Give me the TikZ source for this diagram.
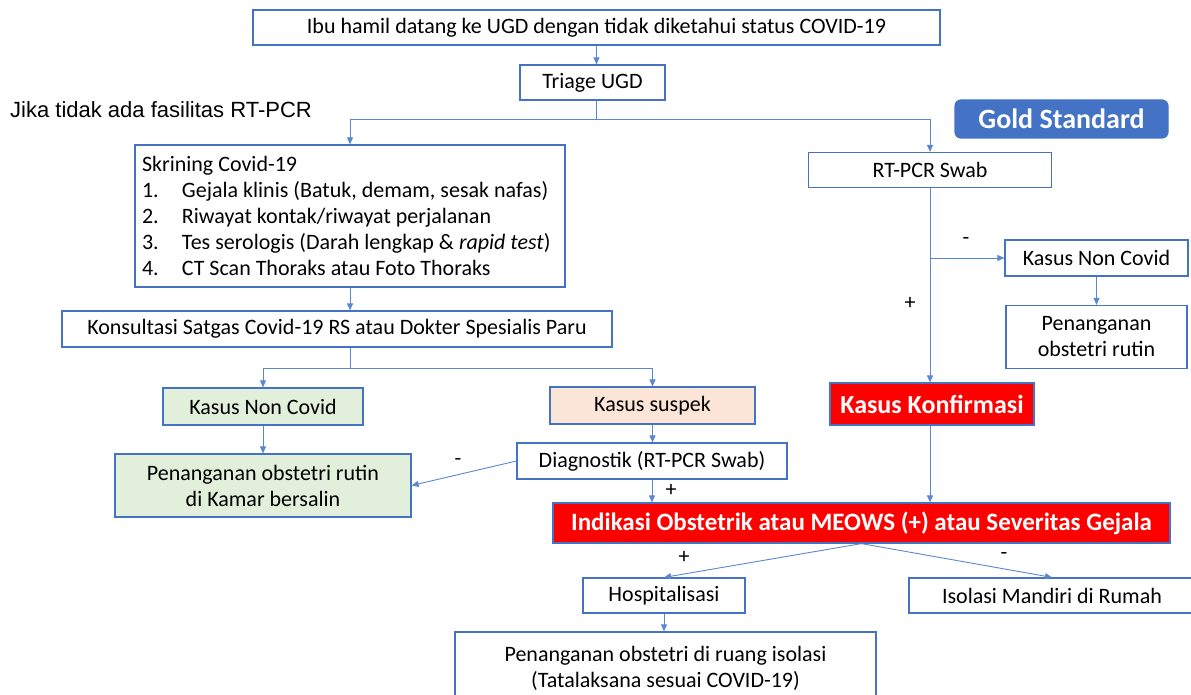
\documentclass[tikz,border=0pt]{standalone}
\usepackage{fontspec}
\setmainfont{Carlito}
\newfontfamily\arialfont{Liberation Sans}
\usetikzlibrary{arrows.meta}
\definecolor{boxblue}{HTML}{4472C4}
\definecolor{lineblue}{HTML}{5B87D0}
\definecolor{nongreen}{HTML}{E2EFDA}
\definecolor{suspeach}{HTML}{FBE5D6}
\begin{document}
\begin{tikzpicture}[x=1pt,y=-1pt,
  every node/.style={inner sep=0pt,font=\fontsize{22}{26}\selectfont},
  box/.style={draw=boxblue,line width=1.2pt,fill=white,align=center},
  redbox/.style={box,fill=red,text=white},
  conn/.style={draw=lineblue,line width=0.9pt},
  arr/.style={conn,-{Triangle[length=7pt,width=6pt]}},
  sign/.style={font=\fontsize{22}{24}\selectfont}]
\useasboundingbox (0,0) rectangle (1191,695);
\node[box,minimum width=687,minimum height=35] (top) at (596.5,27.5) {Ibu hamil datang ke UGD dengan tidak diketahui status COVID-19};
\node[box,minimum width=145,minimum height=35] (triage) at (592.5,82.5) {Triage UGD};
\node[anchor=west,font=\fontsize{22}{24}\selectfont\arialfont] (jika) at (10,110) {Jika tidak ada fasilitas RT-PCR};
\node[box,draw=boxblue,fill=boxblue,rounded corners=6pt,text=white,minimum width=213,minimum height=38,font=\fontsize{28}{30}\selectfont\bfseries] (gold) at (1061.5,119) {Gold Standard};
\node[box,align=flush left,text width=416,inner xsep=7pt,minimum height=142] (skrining) at (350,216) {Skrining Covid-19\\
\makebox[40pt][l]{1.}Gejala klinis (Batuk, demam, sesak nafas)\\
\makebox[40pt][l]{2.}Riwayat kontak/riwayat perjalanan\\
\makebox[40pt][l]{3.}Tes serologis (Darah lengkap \& \textit{rapid test})\\
\makebox[40pt][l]{4.}CT Scan Thoraks atau Foto Thoraks};
\node[box,minimum width=243,minimum height=35] (rtpcr) at (930,170) {RT-PCR Swab};
\node[box,minimum width=183,minimum height=36] (noncovidB) at (1096.5,258) {Kasus Non Covid};
\node[box,minimum width=181,minimum height=63] (rutinB) at (1096.5,337) {Penanganan\\obstetri rutin};
\node[box,minimum width=550,minimum height=36] (konsul) at (337,329) {Konsultasi Satgas Covid-19 RS atau Dokter Spesialis Paru};
\node[box,fill=nongreen,minimum width=200,minimum height=37] (noncovidA) at (263,406.5) {Kasus Non Covid};
\node[box,fill=nongreen,minimum width=296,minimum height=63] (rutinA) at (263,485.5) {Penanganan obstetri rutin\\di Kamar bersalin};
\node[box,fill=suspeach,minimum width=205,minimum height=37] (suspek) at (652.5,405.5) {Kasus suspek};
\node[box,minimum width=270,minimum height=36] (diag) at (652,461) {Diagnostik (RT-PCR Swab)};
\node[redbox,minimum width=204,minimum height=42,font=\fontsize{26}{28}\selectfont\bfseries] (konfirmasi) at (932,404) {Kasus Konfirmasi};
\node[redbox,minimum width=617,minimum height=40,font=\fontsize{25}{28}\selectfont\bfseries] (indikasi) at (861.5,523) {Indikasi Obstetrik atau MEOWS (+) atau Severitas Gejala};
\node[box,minimum width=162,minimum height=35] (hosp) at (664,595.5) {Hospitalisasi};
\node[box,minimum width=286,minimum height=35] (isolasi) at (1052,595.5) {Isolasi Mandiri di Rumah};
\node[box,minimum width=421,minimum height=72] (ruang) at (665.5,668) {Penanganan obstetri di ruang isolasi\\(Tatalaksana sesuai COVID-19)};
\node[sign] (minA) at (458,462) {-};
\node[sign] (plusA) at (671,490) {+};
\node[sign] (minB) at (966,241) {-};
\node[sign] (plusB) at (910,303) {+};
\node[sign] (plusC) at (684,557) {+};
\node[sign] (minC) at (1004,556) {-};
\coordinate (splitT) at (596.5,119);
\coordinate (splitK) at (350,368);
\coordinate (splitR) at (930,258);
\draw[arr] (top.south -| splitT) -- (splitT |- triage.north);
\draw[conn] (splitT |- triage.south) -- (splitT);
\draw[arr] (splitT) -| (skrining.north);
\draw[arr] (splitT) -| (rtpcr.north);
\draw[arr] (rtpcr.south) -- (konfirmasi.north -| rtpcr.south);
\draw[arr] (splitR) -- (noncovidB.west);
\draw[arr] (noncovidB.south) -- (rutinB.north);
\draw[arr] (skrining.south) -- (skrining.south |- konsul.north);
\draw[conn] (splitK |- konsul.south) -- (splitK);
\draw[arr] (splitK) -| (noncovidA.north);
\draw[arr] (splitK) -| (suspek.north);
\draw[arr] (noncovidA.south) -- (rutinA.north);
\draw[arr] (suspek.south) -- (diag.north -| suspek.south);
\draw[arr] (diag.west) -- (rutinA.east);
\draw[arr] (diag.south) -- (diag.south |- indikasi.north);
\draw[arr] (konfirmasi.south -| rtpcr.south) -- (rtpcr.south |- indikasi.north);
\draw[arr] (indikasi.south) -- (hosp.north);
\draw[arr] (indikasi.south) -- (isolasi.north);
\draw[arr] (hosp.south) -- (ruang.north -| hosp.south);
\end{tikzpicture}
\end{document}
